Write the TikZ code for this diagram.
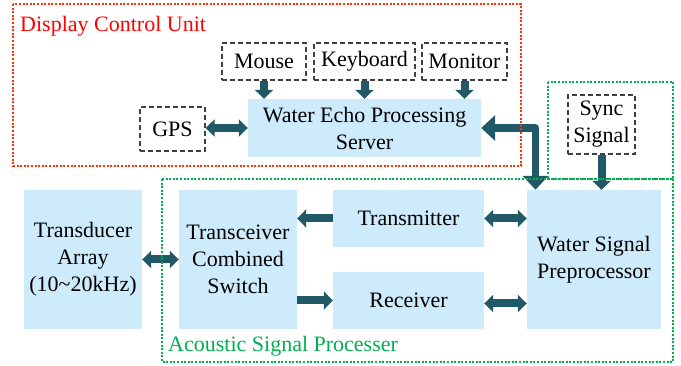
\documentclass[tikz,border=0pt]{standalone}
\usepackage{fontspec}
\setmainfont{Liberation Serif}
\newfontfamily\tnr{Liberation Serif}
\usetikzlibrary{arrows.meta}
\definecolor{arrowc}{RGB}{33,89,104}
\definecolor{boxc}{RGB}{205,235,250}
\definecolor{redc}{RGB}{255,51,0}
\definecolor{greenc}{RGB}{0,176,80}
\begin{document}
\begin{tikzpicture}[x=1pt,y=-1pt,
  font=\tnr\fontsize{22}{27}\selectfont,
  bluebox/.style={fill=boxc, inner sep=0pt, align=center},
  dashbox/.style={draw=black!75, dash pattern=on 5pt off 3pt, line width=1.2pt, fill=white, inner sep=0pt, align=center},
  arr/.style={draw=arrowc, line width=8pt, -{Triangle[width=18pt,length=9pt]}},
  darr/.style={draw=arrowc, line width=8pt, {Triangle[width=17pt,length=9pt]}-{Triangle[width=17pt,length=9pt]}},
  bigarr/.style={draw=arrowc, line width=7.5pt, line join=round, {Triangle[width=25pt,length=14pt]}-{Triangle[width=25pt,length=14pt]}},
  redframe/.style={draw=redc, line width=1.5pt, dash pattern=on 2pt off 1.6pt},
  greenframe/.style={draw=greenc, line width=1.5pt, dash pattern=on 2pt off 1.6pt}]
\useasboundingbox (0,0) rectangle (681,366);

% Display control unit
\node[dashbox, minimum width=84pt, minimum height=37pt] (mouse) at (264,61.5) {Mouse};
\node[dashbox, minimum width=101pt, minimum height=37pt] (keyboard) at (364.5,61.5) {Keyboard};
\node[dashbox, minimum width=85pt, minimum height=37pt] (monitor) at (464.5,61.5) {Monitor};
\node[dashbox, minimum width=65pt, minimum height=44pt] (gps) at (172.5,129) {GPS};
\node[bluebox, minimum width=233pt, minimum height=58pt] (server) at (364.5,128) {Water Echo Processing\\Server};
\node[dashbox, minimum width=67pt, minimum height=59pt] (sync) at (601.5,124.5) {Sync\\Signal};

% Acoustic part
\node[bluebox, minimum width=118pt, minimum height=139pt] (transducer) at (83,259.5) {Transducer\\Array\\(10\textasciitilde 20kHz)};
\node[bluebox, minimum width=118pt, minimum height=139pt] (transceiver) at (238,259.5) {Transceiver\\Combined\\Switch};
\node[bluebox, minimum width=151pt, minimum height=57pt] (transmitter) at (408.5,218.5) {Transmitter};
\node[bluebox, minimum width=151pt, minimum height=57pt] (receiver) at (408.5,300.5) {Receiver};
\node[bluebox, minimum width=134pt, minimum height=139pt] (wsp) at (594,259.5) {Water Signal\\Preprocessor};

% connectors
\draw[arr] (mouse.south) -- (mouse.south |- server.north);
\draw[arr] (keyboard.south) -- (keyboard.south |- server.north);
\draw[arr] (monitor.south) -- (monitor.south |- server.north);
\draw[darr] (gps.east |- server.west) -- (server.west);
\coordinate (bend) at (535.5,128);
\draw[bigarr] (server.east) -- (bend) -- (bend |- wsp.north);
\draw[arr] (sync.south) -- (sync.south |- wsp.north);
\draw[darr] (transducer.east) -- (transceiver.west);
\draw[arr] (transmitter.west) -- (transceiver.east |- transmitter.west);
\draw[arr] (transceiver.east |- receiver.west) -- (receiver.west);
\draw[darr] (transmitter.east) -- (wsp.west |- transmitter.east);
\coordinate (recr) at ([yshift=-3pt]receiver.east);
\draw[darr] (recr) -- (wsp.west |- recr);

% frames
\draw[redframe] (13,4) rectangle (521,166);
\draw[greenframe] (548,82) rectangle (673,179);
\draw[greenframe] (162,179) rectangle (673,362);
\node[anchor=base west, text=red, inner sep=0pt] (dcu) at (20,32) {Display Control Unit};
\node[anchor=base west, text=greenc, inner sep=0pt] (asp) at (168,352) {Acoustic Signal Processer};
\end{tikzpicture}
\end{document}
